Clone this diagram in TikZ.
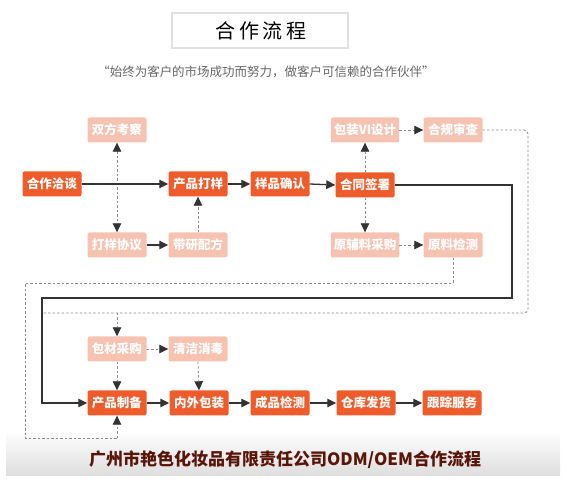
\documentclass[tikz,border=0pt]{standalone}
\usepackage{fontspec}
\setmainfont{Noto Sans CJK SC}
\usetikzlibrary{arrows.meta}
\definecolor{dorange}{HTML}{EE5C2C}
\definecolor{lorange}{HTML}{F6C3B2}
\definecolor{lnk}{HTML}{333333}
\definecolor{dsh}{HTML}{8A8A8A}
\definecolor{maroon}{HTML}{5A1509}
\tikzset{
  box/.style={rounded corners=2pt, minimum height=25pt, minimum width=59pt, inner xsep=3pt, inner ysep=0pt,
    text=white, font=\fontsize{12.5}{14}\selectfont\bfseries},
  mainbox/.style={box, fill=dorange},
  subbox/.style={box, fill=lorange},
  tip/.style={-{Triangle[length=9pt,width=8.5pt]}},
  solidln/.style={draw=lnk, line width=1.3pt, tip},
  dashln/.style={draw=dsh, line width=0.8pt, dash pattern=on 2.5pt off 2pt},
  dasharr/.style={dashln, -{Triangle[length=9pt,width=8.5pt,fill=lnk,color=lnk]}},
}
\begin{document}
\begin{tikzpicture}[x=1pt,y=-1pt]
\useasboundingbox (0,0) rectangle (566,500);
% bottom shadow band
\shade[top color=white, bottom color=black!13] (6,430) rectangle (560,476);
\fill[white] (6,476) rectangle (560,500);
% title
\node[draw=black!12, line width=2pt, minimum width=176pt, minimum height=35pt, inner sep=0pt] (title) at (260,30.5) {};
\node[font=\fontsize{20}{22}\selectfont, text=black] (titletext) at (261,31) {合\hspace{3.5pt}作\hspace{3.5pt}流\hspace{3.5pt}程};
\node[font=\fontsize{12.5}{14}\selectfont, text=black!60] (motto) at (266,72) {“始终为客户的市场成功而努力，做客户可信赖的合作伙伴”};
% nodes
\node[mainbox] (a1) at (52,184) {合作洽谈};
\node[subbox] (b1) at (117,130) {双方考察};
\node[subbox] (c1) at (117,245) {打样协议};
\node[mainbox] (a2) at (198,184) {产品打样};
\node[subbox] (c2) at (198,245) {带研配方};
\node[mainbox] (a3) at (280,184) {样品确认};
\node[mainbox] (a4) at (365,185) {合同签署};
\node[subbox] (b3) at (365,130) {包装VI设计};
\node[subbox] (c3) at (365,245) {原辅料采购};
\node[subbox] (b4) at (453,130) {合规审查};
\node[subbox] (c4) at (453,245) {原料检测};
\node[subbox] (d1) at (117,349) {包材采购};
\node[subbox] (d2) at (198,349) {清洁消毒};
\node[mainbox] (e1) at (117,403) {产品制备};
\node[mainbox] (e2) at (199,403) {内外包装};
\node[mainbox] (e3) at (280,403) {成品检测};
\node[mainbox] (e4) at (366,403) {仓库发货};
\node[mainbox] (e5) at (452,403) {跟踪服务};
% routing coordinates
\coordinate (r1) at (512,185);
\coordinate (r2) at (512,298);
\coordinate (r3) at (42,298);
\coordinate (s1) at (528,130);
\coordinate (s2) at (528,313);
\coordinate (s3) at (42,313);
\coordinate (s4) at (117,313);
\coordinate (t1) at (453,283);
\coordinate (t2) at (25,283);
\coordinate (t3) at (25,438);
\coordinate (t4) at (117,438);
% dashed connectors
\draw[dashln, {Triangle[length=9pt,width=8.5pt,fill=lnk,color=lnk]}-{Triangle[length=9pt,width=8.5pt,fill=lnk,color=lnk]}] (b1.south) -- (c1.north);
\draw[dasharr] (c2.north) -- (a2.south);
\draw[dasharr] (a4.north) -- (b3.south);
\draw[dasharr] (a4.south) -- (c3.north);
\draw[dasharr] (b3.east) -- (b4.west);
\draw[dasharr] (c3.east) -- (c4.west);
\draw[dashln, rounded corners=4pt] (b4.east) -- (s1) -- (s2) -- (s3);
\draw[dasharr] (s4) -- (d1.north);
\draw[dashln] (c4.south) -- (t1) -- (t2) -- (t3) -- (t4);
\draw[dasharr] (t4) -- (e1.south);
\draw[dasharr] (d1.east) -- (d2.west);
\draw[dasharr] (d1.south) -- (e1.north);
\draw[dasharr] (d2.south) -- (e2.north);
% solid connectors
\draw[solidln] (a1.east) -- (a2.west);
\draw[solidln] (a2.east) -- (a3.west);
\draw[solidln] (a3.east) -- (a4.west);
\draw[solidln] (c1.east) -- (c2.west);
\draw[solidln] (a4.east) -- (r1) -- (r2) -- (r3) |- (e1.west);
\draw[solidln] (e1.east) -- (e2.west);
\draw[solidln] (e2.east) -- (e3.west);
\draw[solidln] (e3.east) -- (e4.west);
\draw[solidln] (e4.east) -- (e5.west);
% bottom caption
\node[font=\fontsize{17}{20}\selectfont\bfseries, text=maroon] (caption) at (285,460) {广州市艳色化妆品有限责任公司ODM/OEM合作流程};
\end{tikzpicture}
\end{document}
